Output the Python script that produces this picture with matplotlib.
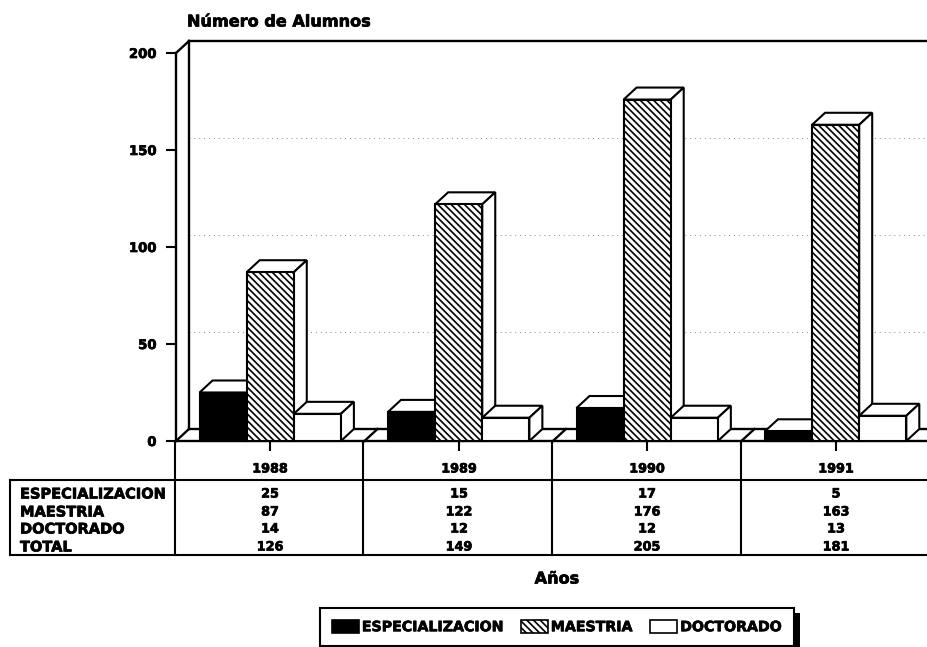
import matplotlib
matplotlib.use('Agg')
import matplotlib.pyplot as plt
import matplotlib.patheffects as pe
from matplotlib.patches import Patch, Rectangle

years = ['1988', '1989', '1990', '1991']
series_names = ['ESPECIALIZACION', 'MAESTRIA', 'DOCTORADO']
especializacion = [25, 15, 17, 5]
maestria = [87, 122, 176, 163]
doctorado = [14, 12, 12, 13]
total = [126, 149, 205, 181]
y_ticks = [0, 50, 100, 150, 200]

W, H = 928, 647
plt.rcParams['font.family'] = 'DejaVu Sans'
plt.rcParams['font.weight'] = 'bold'
plt.rcParams['hatch.linewidth'] = 1.2

fig = plt.figure(figsize=(W / 100, H / 100), dpi=100)
heavy = [pe.withStroke(linewidth=0.5, foreground='black')]

# pixel overlay for the table and the labels
pix = fig.add_axes([0, 0, 1, 1], zorder=3)
pix.set_xlim(0, W)
pix.set_ylim(H, 0)
pix.axis('off')
pix.patch.set_alpha(0)

ax = fig.add_axes([176 / W, 1 - 441 / H, (W - 176) / W, 388 / H], zorder=2)
ax.patch.set_alpha(0)
ax.set_xlim(-0.5, 3.49)
ax.set_ylim(0, 200)

# depth of the fake 3d effect, in data units
dx = 13 / 188.7
dy = 12 / 1.94
bar_w = 0.25
offsets = [-0.25, 0, 0.25]
styles = [dict(facecolor='black', hatch=None),
          dict(facecolor='white', hatch='\\\\\\\\\\'),
          dict(facecolor='white', hatch=None)]
line = dict(color='black', lw=1.7, clip_on=False)

# back wall and floor
x0, x1 = ax.get_xlim()
ax.plot([x0 + dx, x0 + dx], [dy, 200 + dy], **line)
ax.plot([x0 + dx, x1], [200 + dy, 200 + dy], **line)
ax.plot([x0, x0 + dx], [200, 200 + dy], **line)
ax.plot([x0 + dx, x1], [dy, dy], **line)
for b in range(len(years) + 1):
    ax.plot([x0 + b, x0 + b + dx], [0, dy], **line)
for t in y_ticks[1:-1]:
    ax.plot([x0 + dx, x1], [t + dy, t + dy], color='#888888', lw=0.7, ls=(0, (1, 4)), zorder=1)


def box(x, h, st):
    left, right = x - bar_w / 2, x + bar_w / 2
    ax.fill([left, left + dx, right + dx, right], [h, h + dy, h + dy, h],
            facecolor='white', edgecolor='black', lw=1.5, clip_on=False, zorder=3)
    ax.fill([right, right + dx, right + dx, right], [0, dy, h + dy, h],
            facecolor='white', edgecolor='black', lw=1.5, clip_on=False, zorder=3)
    ax.bar(x, h, bar_w, edgecolor='black', lw=1.5, zorder=3, clip_on=False, **st)


for i in range(len(years)):
    for off, vals, st in zip(offsets, [especializacion, maestria, doctorado], styles):
        box(i + off, vals[i], st)

for side in ['top', 'right']:
    ax.spines[side].set_visible(False)
ax.spines['left'].set_linewidth(1.7)
ax.spines['bottom'].set_linewidth(1.7)
ax.set_yticks(y_ticks)
ax.set_xticks(range(len(years)))
ax.set_xticklabels([])
ax.tick_params(axis='both', length=7, width=1.5, labelsize=9.5, pad=7)
for lab in ax.get_yticklabels():
    lab.set_path_effects(heavy)

# table under the chart
tline = dict(color='black', lw=1.5, clip_on=False)
col_edges = [175, 363.5, 552, 741]
centers = [270, 459, 647, 836]
pix.plot([10, W], [480, 480], **tline)
pix.plot([10, W], [555, 555], **tline)
pix.plot([10, 10], [480, 555], **tline)
for e in col_edges:
    pix.plot([e, e], [441, 555], **tline)

row_y = [494, 512, 529, 547]
row_names = series_names + ['TOTAL']
rows = [especializacion, maestria, doctorado, total]
for name, vals, y in zip(row_names, rows, row_y):
    pix.text(20, y, name, fontsize=10.5, va='center', ha='left', path_effects=heavy)
    for c, v in zip(centers, vals):
        pix.text(c, y, str(v), fontsize=9.2, va='center', ha='center', path_effects=heavy)
for c, yr in zip(centers, years):
    pix.text(c, 469, yr, fontsize=9.2, va='center', ha='center', path_effects=heavy)

pix.text(187, 22, 'Número de Alumnos', fontsize=11.6, va='center', ha='left', path_effects=heavy)
pix.text(557, 579, 'Años', fontsize=11.6, va='center', ha='center', path_effects=heavy)

# legend with a heavy drop shadow
pix.add_patch(Rectangle((326, 613), 474, 34, facecolor='black', edgecolor='none', zorder=1))
handles = [Patch(facecolor=st['facecolor'], hatch=st['hatch'], edgecolor='black', lw=1.2) for st in styles]
leg = pix.legend(handles, series_names, ncol=3, loc='center', bbox_to_anchor=(557, 627),
                 bbox_transform=pix.transData, fancybox=False, framealpha=1, edgecolor='black',
                 fontsize=10.2, handlelength=1.9, handleheight=1.05, handletextpad=0.2,
                 columnspacing=1.3, borderpad=0.85, borderaxespad=0)
leg.get_frame().set_linewidth(1.5)
leg.set_zorder(2)
for t in leg.get_texts():
    t.set_path_effects(heavy)

fig.savefig('out.png', dpi=100)
